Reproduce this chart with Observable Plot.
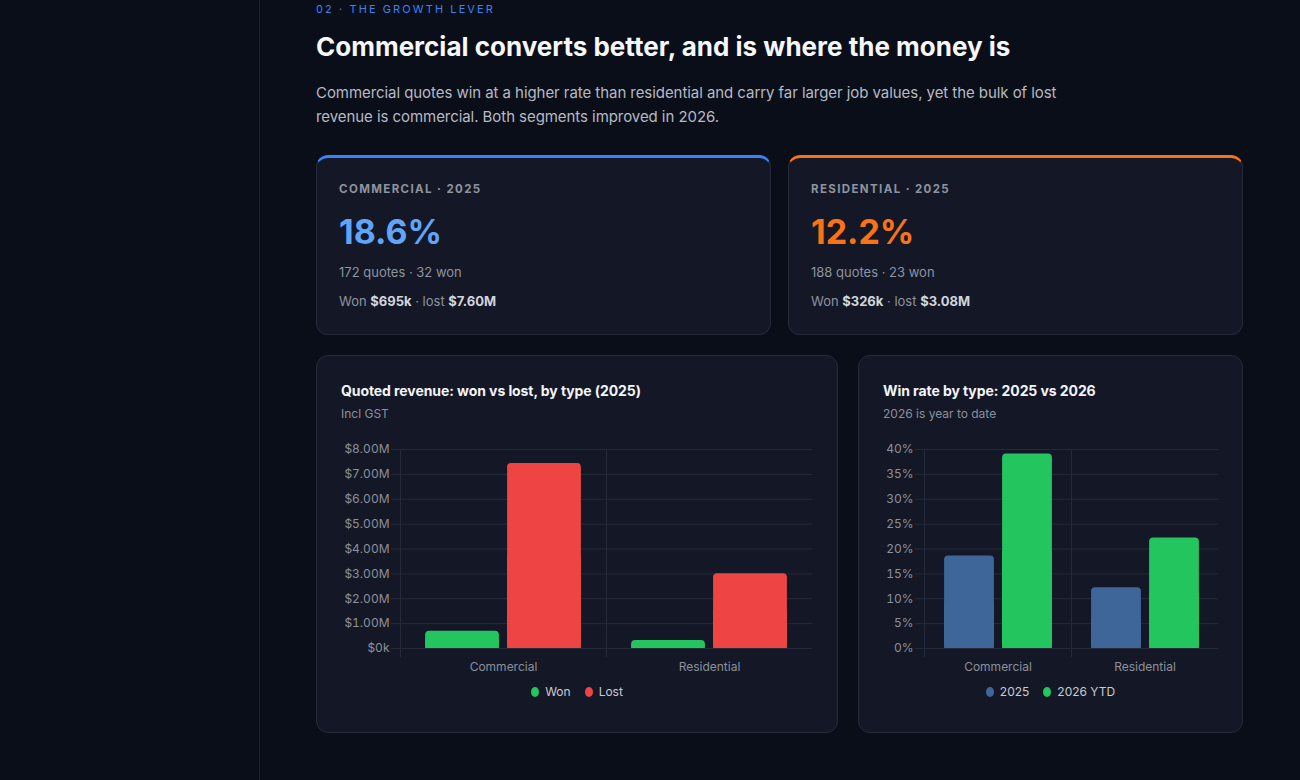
<!DOCTYPE html>
<html>
<head>
<meta charset="utf-8">
<script src="https://cdn.jsdelivr.net/npm/d3@7"></script>
<script src="https://cdn.jsdelivr.net/npm/@observablehq/plot@0.6"></script>
<style>
  html, body { margin: 0; padding: 0; }
  body {
    width: 1300px; height: 780px; overflow: hidden;
    background: #0a0e18; font-family: Inter, "Noto Sans", sans-serif;
    position: relative;
  }
  .sidebar { position: absolute; left: 0; top: 0; width: 259px; height: 780px; border-right: 1px solid #1c2130; }
  main { position: absolute; left: 316px; top: 0; width: 927px; }
  .eyebrow { margin-top: 2px; font-size: 11px; line-height: 14px; letter-spacing: 0.19em; color: #3b82f6; }
  h1 { margin: 15px 0 0; font-size: 26px; line-height: 32px; font-weight: 700; color: #f6f7f9; }
  .lede { margin: 18px 0 0; max-width: 760px; font-size: 15px; line-height: 24px; letter-spacing: -0.06px; color: #b6bac4; }
  .kpis { display: flex; gap: 17px; margin-top: 26px; }
  .kpi {
    box-sizing: border-box; width: 455px; height: 180px;
    background: #141826; border: 1px solid #262b3a; border-radius: 12px;
    padding: 24px 22px 0;
  }
  .kpi.blue { border-top: 3px solid #3b82f6; }
  .kpi.orange { border-top: 3px solid #f97316; }
  .kpi .lab { font-size: 11.5px; line-height: 14px; font-weight: 700; letter-spacing: 0.12em; color: #8e939e; }
  .kpi .big { margin-top: 14px; font-size: 34px; line-height: 44px; font-weight: 700; }
  .kpi.blue .big { color: #60a5fa; }
  .kpi.orange .big { color: #f97316; }
  .kpi .sub { margin-top: 9px; font-size: 13px; line-height: 18px; color: #8e939e; }
  .kpi .sub + .sub { margin-top: 11px; }
  .kpi .sub b { color: #d2d5dc; font-weight: 700; }
  .charts { display: flex; gap: 20px; margin-top: 20px; }
  .card {
    box-sizing: border-box; height: 378px;
    background: #141826; border: 1px solid #262b3a; border-radius: 12px;
    padding: 25px 24px 0;
  }
  .card .ct { font-size: 14px; line-height: 20px; font-weight: 700; letter-spacing: -0.08px; color: #f3f4f7; }
  .card .cs { margin-top: 5px; font-size: 12px; line-height: 16px; color: #8a8f9b; }
  .card .plot { margin-top: 15px; }
  .card svg { display: block; overflow: visible; }
  .legend { display: flex; justify-content: center; gap: 14px; margin-top: 6px; font-size: 12px; line-height: 16px; color: #c7cbd3; }
  .legend span { display: inline-flex; align-items: center; gap: 6px; }
  .legend i { display: inline-block; width: 8px; height: 10px; border-radius: 50%; }
</style>
</head>
<body>
<div class="sidebar"></div>
<main>
  <div class="eyebrow">02 · THE GROWTH LEVER</div>
  <h1>Commercial converts better, and is where the money is</h1>
  <p class="lede">Commercial quotes win at a higher rate than residential and carry far larger job values, yet the bulk of lost revenue is commercial. Both segments improved in 2026.</p>
  <div class="kpis">
    <div class="kpi blue">
      <div class="lab">COMMERCIAL · 2025</div>
      <div class="big">18.6%</div>
      <div class="sub">172 quotes · 32 won</div>
      <div class="sub">Won <b>$695k</b> · lost <b>$7.60M</b></div>
    </div>
    <div class="kpi orange">
      <div class="lab">RESIDENTIAL · 2025</div>
      <div class="big">12.2%</div>
      <div class="sub">188 quotes · 23 won</div>
      <div class="sub">Won <b>$326k</b> · lost <b>$3.08M</b></div>
    </div>
  </div>
  <div class="charts">
    <div class="card" style="width:522px">
      <div class="ct">Quoted revenue: won vs lost, by type (2025)</div>
      <div class="cs">Incl GST</div>
      <div class="plot" id="revenue"></div>
      <div class="legend" id="revenue-legend"></div>
    </div>
    <div class="card" style="width:385px">
      <div class="ct">Win rate by type: 2025 vs 2026</div>
      <div class="cs">2026 is year to date</div>
      <div class="plot" id="winrate"></div>
      <div class="legend" id="winrate-legend"></div>
    </div>
  </div>
</main>
<script>
// Segments
const types = ["Commercial", "Residential"];

// Quoted revenue 2025 (AUD, incl GST)
const revenueSeries = ["Won", "Lost"];
const revenueWon = [695000, 326000];
const revenueLost = [7440000, 3010000];
const revenueTicks = [0, 1e6, 2e6, 3e6, 4e6, 5e6, 6e6, 7e6, 8e6];

// Win rate (%)
const rateSeries = ["2025", "2026 YTD"];
const rate2025 = [18.6, 12.2];
const rate2026 = [39.1, 22.2];
const rateTicks = [0, 5, 10, 15, 20, 25, 30, 35, 40];

const GRID = "#252a38";
const AXIS_TEXT = "#8b909b";
const GREEN = "#22c55e";
const RED = "#ef4444";
const BLUE_2025 = "#3f6699";

const revenueRows = types.flatMap((t, i) => [
  {type: t, series: "Won", value: revenueWon[i]},
  {type: t, series: "Lost", value: revenueLost[i]}
]);
const rateRows = types.flatMap((t, i) => [
  {type: t, series: "2025", value: rate2025[i]},
  {type: t, series: "2026 YTD", value: rate2026[i]}
]);

// Grouped bar chart in the Chart.js look: category bands with 80% groups, 90% bars,
// gridlines at every tick plus short tick stubs, and a rule at each band's left edge.
function groupedBars({rows, series, colors, ticks, domain, tickFormat, width, marginLeft}) {
  const bar = {fx: "type", x: "series", fill: "series", insetLeft: 4.1, insetRight: 4.1};
  return Plot.plot({
    width, height: 241,
    marginLeft, marginRight: 0, marginTop: 12, marginBottom: 30,
    style: {background: "transparent", color: AXIS_TEXT, fontFamily: "Inter, sans-serif", fontSize: "12px"},
    fx: {domain: types, padding: 0, label: null},
    x: {domain: series, paddingInner: 0, paddingOuter: 0.25, axis: null},
    y: {domain, label: null},
    color: {domain: series, range: colors},
    marks: [
      Plot.gridY(ticks, {stroke: GRID, strokeOpacity: 1}),
      Plot.frame({anchor: "left", stroke: GRID, strokeOpacity: 1, insetBottom: -8}),
      // rounded tops
      Plot.barY(rows, {...bar, y: "value", rx: 4}),
      // square off the bottom corners
      Plot.barY(rows, {...bar, y: d => d.value / 2}),
      Plot.axisY(ticks, {tickSize: 9, tickPadding: 2, stroke: GRID, fill: AXIS_TEXT, tickFormat, label: null}),
      Plot.axisFx({anchor: "bottom", tickSize: 0, tickPadding: 14, fill: AXIS_TEXT, label: null})
    ]
  });
}

function legend(el, series, colors) {
  el.innerHTML = series.map((s, i) => `<span><i style="background:${colors[i]}"></i>${s}</span>`).join("");
}

document.getElementById("revenue").append(groupedBars({
  rows: revenueRows, series: revenueSeries, colors: [GREEN, RED],
  ticks: revenueTicks, domain: [0, 8e6],
  tickFormat: d => d === 0 ? "$0k" : `$${(d / 1e6).toFixed(2)}M`,
  width: 471, marginLeft: 58
}));
legend(document.getElementById("revenue-legend"), revenueSeries, [GREEN, RED]);

document.getElementById("winrate").append(groupedBars({
  rows: rateRows, series: rateSeries, colors: [BLUE_2025, GREEN],
  ticks: rateTicks, domain: [0, 40],
  tickFormat: d => `${d}%`,
  width: 335, marginLeft: 40
}));
legend(document.getElementById("winrate-legend"), rateSeries, [BLUE_2025, GREEN]);
</script>
</body>
</html>
